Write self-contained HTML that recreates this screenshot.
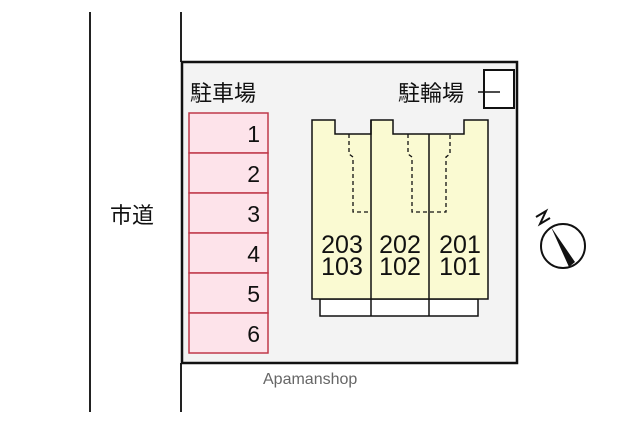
<!DOCTYPE html><html><head><style>body{margin:0;background:#fff}</style></head><body>
<svg width="640" height="427" xmlns="http://www.w3.org/2000/svg" style="display:block;font-family:'Liberation Sans','Noto Sans CJK JP',sans-serif">
<line x1="90" y1="12" x2="90" y2="412" stroke="#222" stroke-width="2"/>
<line x1="181" y1="12" x2="181" y2="62" stroke="#222" stroke-width="2"/>
<line x1="181" y1="363" x2="181" y2="412" stroke="#222" stroke-width="2"/>
<text x="110" y="223" font-size="22" fill="#111">市道</text>
<rect x="182" y="62" width="335" height="301" fill="#f3f3f3" stroke="#111" stroke-width="2.5"/>
<text x="190" y="101" font-size="22" fill="#111">駐車場</text>
<text x="398" y="101" font-size="22" fill="#111">駐輪場</text>
<rect x="484" y="70" width="30" height="38" fill="#fff" stroke="#111" stroke-width="2"/>
<line x1="478" y1="92" x2="500" y2="92" stroke="#111" stroke-width="1.5"/>
<g stroke="#c0394a" stroke-width="1.5" fill="#fde3ea">
<rect x="189" y="113" width="79" height="40"/><rect x="189" y="153" width="79" height="40"/><rect x="189" y="193" width="79" height="40"/><rect x="189" y="233" width="79" height="40"/><rect x="189" y="273" width="79" height="40"/><rect x="189" y="313" width="79" height="40"/>
</g>
<g font-size="23" fill="#111" text-anchor="end">
<text x="260" y="142">1</text><text x="260" y="182">2</text><text x="260" y="222">3</text><text x="260" y="262">4</text><text x="260" y="302">5</text><text x="260" y="342">6</text>
</g>
<rect x="320" y="299" width="158" height="17" fill="#fff" stroke="#111" stroke-width="1.5"/>
<line x1="371" y1="299" x2="371" y2="316" stroke="#111" stroke-width="1.5"/>
<line x1="429" y1="299" x2="429" y2="316" stroke="#111" stroke-width="1.5"/>
<polygon points="312,120 335,120 335,134 371,134 371,120 393,120 393,134 464,134 464,120 488,120 488,299 312,299" fill="#fafad2" stroke="#111" stroke-width="1.5"/>
<line x1="371" y1="120" x2="371" y2="299" stroke="#111" stroke-width="1.5"/>
<line x1="429" y1="134" x2="429" y2="299" stroke="#111" stroke-width="1.5"/>
<g stroke="#111" stroke-width="1.3" fill="none" stroke-dasharray="4,3">
<polyline points="349,134 349,154 353,157 353,212 371,212"/>
<polyline points="408,134 408,154 412,157 412,212 446,212 446,157 450,154 450,134"/>
</g>
<g font-size="25" fill="#111" text-anchor="middle">
<text x="342" y="253">203</text><text x="342" y="275">103</text>
<text x="400" y="253">202</text><text x="400" y="275">102</text>
<text x="460" y="253">201</text><text x="460" y="275">101</text>
</g>
<circle cx="563" cy="246" r="22" fill="#fff" stroke="#111" stroke-width="2"/>
<polygon points="551,227 575,262 569,267" fill="#111"/>
<path d="M536,217 L546,211 L540,224 L550,218" fill="none" stroke="#111" stroke-width="2"/>
<text x="263" y="384" font-size="16" fill="#666">Apamanshop</text>
</svg>
</body></html>
